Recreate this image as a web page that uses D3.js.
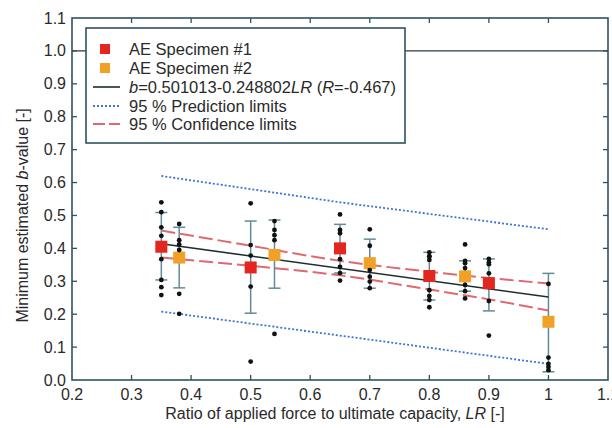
<!DOCTYPE html>
<html>
<head>
<meta charset="utf-8">
<script src="https://cdn.jsdelivr.net/npm/d3@7"></script>
<style>
  body { margin: 0; background: #fff; }
  svg { font-family: "Liberation Sans", Arial, sans-serif; }
</style>
</head>
<body>
<div id="chart"></div>
<script>
// ---- data ----
var xTicks = [0.2, 0.3, 0.4, 0.5, 0.6, 0.7, 0.8, 0.9, 1, 1.1];
var xTickLabels = ["0.2", "0.3", "0.4", "0.5", "0.6", "0.7", "0.8", "0.9", "1", "1.1"];
var yTicks = [0, 0.1, 0.2, 0.3, 0.4, 0.5, 0.6, 0.7, 0.8, 0.9, 1.0, 1.1];

// specimen #1 (red) and #2 (orange): load ratio, mean, error bar low / high
var spec1LR   = [0.35, 0.5, 0.65, 0.8, 0.9];
var spec1Mean = [0.405, 0.342, 0.400, 0.316, 0.294];
var spec1Low  = [0.304, 0.203, 0.325, 0.243, 0.210];
var spec1High = [0.509, 0.483, 0.473, 0.388, 0.368];

var spec2LR   = [0.38, 0.54, 0.7, 0.86, 1.0];
var spec2Mean = [0.372, 0.380, 0.355, 0.315, 0.177];
var spec2Low  = [0.280, 0.279, 0.279, 0.270, 0.025];
var spec2High = [0.464, 0.486, 0.428, 0.362, 0.324];

// individual b-values (black dots)
var dotLR = [
  0.35, 0.35, 0.35, 0.35, 0.35, 0.35, 0.35, 0.35,
  0.38, 0.38, 0.38, 0.38, 0.38, 0.38,
  0.5, 0.5, 0.5, 0.5, 0.5,
  0.54, 0.54, 0.54, 0.54, 0.54,
  0.65, 0.65, 0.65, 0.65, 0.65, 0.65, 0.65,
  0.7, 0.7, 0.7, 0.7, 0.7, 0.7,
  0.8, 0.8, 0.8, 0.8, 0.8, 0.8, 0.8, 0.8,
  0.86, 0.86, 0.86, 0.86, 0.86, 0.86, 0.86,
  0.9, 0.9, 0.9, 0.9, 0.9, 0.9,
  1.0, 1.0, 1.0, 1.0, 1.0, 1.0
];
var dotB = [
  0.540, 0.510, 0.464, 0.438, 0.367, 0.304, 0.282, 0.258,
  0.474, 0.425, 0.412, 0.395, 0.262, 0.201,
  0.537, 0.410, 0.378, 0.284, 0.056,
  0.483, 0.456, 0.440, 0.425, 0.140,
  0.503, 0.456, 0.446, 0.367, 0.344, 0.325, 0.302,
  0.458, 0.334, 0.314, 0.299, 0.279,
  0.408, 0.375, 0.365, 0.273, 0.255, 0.243, 0.221, 0.388,
  0.376, 0.355, 0.340, 0.289, 0.270, 0.248, 0.362,
  0.412, 0.352, 0.324, 0.240, 0.135, 0.368,
  0.357, 0.292, 0.068, 0.049, 0.040, 0.030
];

// fitted line b = 0.501013 - 0.248802 LR, end points
var fitLR = [0.35, 1.0];
var fitB  = [0.414, 0.252];

// 95 % confidence limits
var confLR    = [0.35, 0.5, 0.65, 0.8, 0.9, 1.0];
var confUpper = [0.454, 0.408, 0.362, 0.329, 0.310, 0.293];
var confLower = [0.372, 0.347, 0.318, 0.275, 0.245, 0.211];

// 95 % prediction limits
var predLR    = [0.35, 0.65, 1.0];
var predUpper = [0.620, 0.540, 0.458];
var predLower = [0.208, 0.135, 0.049];

var refLine = 1.0;

// ---- layout ----
var width = 612, height = 428;
var mLeft = 72, mRight = 608, mTop = 18, mBottom = 380;

var svg = d3.select("#chart").append("svg")
    .attr("width", width)
    .attr("height", height);

var x = d3.scaleLinear().domain([0.2, 1.1]).range([mLeft, mRight]);
var y = d3.scaleLinear().domain([0, 1.1]).range([mBottom, mTop]);

var axisColor = "#2e5260";
var errColor = "#5f8c98";
var textColor = "#2a2a2a";

// reference line at b = 1.0
svg.append("line")
    .attr("x1", x(0.2)).attr("x2", x(1.1))
    .attr("y1", y(refLine)).attr("y2", y(refLine))
    .attr("stroke", "#2a3a40")
    .attr("stroke-width", 1.4);

// prediction limits
var line = d3.line().x(function(d) { return x(d[0]); }).y(function(d) { return y(d[1]); });

[predUpper, predLower].forEach(function(arr) {
    svg.append("path")
        .attr("d", line(d3.zip(predLR, arr)))
        .attr("fill", "none")
        .attr("stroke", "#3f73d6")
        .attr("stroke-width", 1.8)
        .attr("stroke-dasharray", "2,2");
});

// confidence limits
var curve = d3.line().curve(d3.curveMonotoneX)
    .x(function(d) { return x(d[0]); }).y(function(d) { return y(d[1]); });

[confUpper, confLower].forEach(function(arr) {
    svg.append("path")
        .attr("d", curve(d3.zip(confLR, arr)))
        .attr("fill", "none")
        .attr("stroke", "#e06870")
        .attr("stroke-width", 2)
        .attr("stroke-dasharray", "14,5");
});

// error bars
function errorBars(lr, lo, hi) {
    var g = svg.append("g");
    lr.forEach(function(v, i) {
        g.append("line")
            .attr("x1", x(v)).attr("x2", x(v))
            .attr("y1", y(lo[i])).attr("y2", y(hi[i]))
            .attr("stroke", errColor).attr("stroke-width", 1.5);
        [lo[i], hi[i]].forEach(function(c) {
            g.append("line")
                .attr("x1", x(v) - 6).attr("x2", x(v) + 6)
                .attr("y1", y(c)).attr("y2", y(c))
                .attr("stroke", errColor).attr("stroke-width", 1.5);
        });
    });
}
errorBars(spec1LR, spec1Low, spec1High);
errorBars(spec2LR, spec2Low, spec2High);

// fitted line
svg.append("path")
    .attr("d", line(d3.zip(fitLR, fitB)))
    .attr("fill", "none")
    .attr("stroke", "#1e2e2e")
    .attr("stroke-width", 1.6);

// mean markers
function markers(lr, mean, color) {
    svg.append("g").selectAll("rect")
        .data(d3.zip(lr, mean))
        .enter().append("rect")
        .attr("x", function(d) { return x(d[0]) - 6; })
        .attr("y", function(d) { return y(d[1]) - 6; })
        .attr("width", 12)
        .attr("height", 12)
        .attr("fill", color);
}
markers(spec1LR, spec1Mean, "#e3261f");
markers(spec2LR, spec2Mean, "#f0a126");

// individual values
svg.append("g").selectAll("circle")
    .data(d3.zip(dotLR, dotB))
    .enter().append("circle")
    .attr("cx", function(d) { return x(d[0]); })
    .attr("cy", function(d) { return y(d[1]); })
    .attr("r", 2.4)
    .attr("fill", "#111");

// frame
svg.append("rect")
    .attr("x", mLeft).attr("y", mTop)
    .attr("width", mRight - mLeft).attr("height", mBottom - mTop)
    .attr("fill", "none")
    .attr("stroke", axisColor)
    .attr("stroke-width", 1.6);

// inward ticks on all sides
var tl = 5;
xTicks.slice(1, -1).forEach(function(t) {
    svg.append("line").attr("x1", x(t)).attr("x2", x(t))
        .attr("y1", mBottom).attr("y2", mBottom - tl)
        .attr("stroke", axisColor).attr("stroke-width", 1.3);
    svg.append("line").attr("x1", x(t)).attr("x2", x(t))
        .attr("y1", mTop).attr("y2", mTop + tl)
        .attr("stroke", axisColor).attr("stroke-width", 1.3);
});
yTicks.slice(1, -1).forEach(function(t) {
    svg.append("line").attr("x1", mLeft).attr("x2", mLeft + tl)
        .attr("y1", y(t)).attr("y2", y(t))
        .attr("stroke", axisColor).attr("stroke-width", 1.3);
    svg.append("line").attr("x1", mRight).attr("x2", mRight - tl)
        .attr("y1", y(t)).attr("y2", y(t))
        .attr("stroke", axisColor).attr("stroke-width", 1.3);
});

// tick labels
svg.append("g").selectAll("text")
    .data(xTicks)
    .enter().append("text")
    .attr("x", function(d) { return x(d); })
    .attr("y", mBottom + 20)
    .attr("text-anchor", "middle")
    .attr("font-size", "16px")
    .attr("fill", textColor)
    .text(function(d, i) { return xTickLabels[i]; });

svg.append("g").selectAll("text")
    .data(yTicks)
    .enter().append("text")
    .attr("x", mLeft - 6)
    .attr("y", function(d) { return y(d) + 5.5; })
    .attr("text-anchor", "end")
    .attr("font-size", "16px")
    .attr("fill", textColor)
    .text(function(d) { return d.toFixed(1); });

// axis titles
var xt = svg.append("text")
    .attr("x", 335)
    .attr("y", 419)
    .attr("text-anchor", "middle")
    .attr("font-size", "16px")
    .attr("fill", textColor);
xt.append("tspan").text("Ratio of applied force to ultimate capacity, ");
xt.append("tspan").attr("font-style", "italic").text("LR");
xt.append("tspan").text(" [-]");

var yt = svg.append("text")
    .attr("transform", "translate(28," + y(0.5) + ") rotate(-90)")
    .attr("text-anchor", "middle")
    .attr("font-size", "16px")
    .attr("fill", textColor);
yt.append("tspan").text("Minimum estimated ");
yt.append("tspan").attr("font-style", "italic").text("b");
yt.append("tspan").text("-value [-]");

// legend
var lg = svg.append("g");
lg.append("rect")
    .attr("x", 86).attr("y", 28)
    .attr("width", 319).attr("height", 115)
    .attr("fill", "#fff")
    .attr("stroke", axisColor)
    .attr("stroke-width", 1.6);

var rowY = [49, 68, 87, 106, 124];
var tx = 129;

lg.append("rect").attr("x", 100).attr("y", rowY[0] - 5).attr("width", 10).attr("height", 10).attr("fill", "#e3261f");
lg.append("rect").attr("x", 100).attr("y", rowY[1] - 5).attr("width", 10).attr("height", 10).attr("fill", "#f0a126");
lg.append("line").attr("x1", 93).attr("x2", 120).attr("y1", rowY[2]).attr("y2", rowY[2])
    .attr("stroke", "#1e2e2e").attr("stroke-width", 1.6);
lg.append("line").attr("x1", 93).attr("x2", 120).attr("y1", rowY[3]).attr("y2", rowY[3])
    .attr("stroke", "#3f73d6").attr("stroke-width", 1.8).attr("stroke-dasharray", "2,2");
lg.append("line").attr("x1", 93).attr("x2", 120).attr("y1", rowY[4]).attr("y2", rowY[4])
    .attr("stroke", "#e06870").attr("stroke-width", 2).attr("stroke-dasharray", "12,4");

function legText(i) {
    return lg.append("text")
        .attr("x", tx).attr("y", rowY[i] + 6)
        .attr("font-size", "16.5px")
        .attr("fill", textColor);
}
legText(0).text("AE Specimen #1");
legText(1).text("AE Specimen #2");
var t3 = legText(2);
t3.append("tspan").attr("font-style", "italic").text("b");
t3.append("tspan").text("=0.501013-0.248802");
t3.append("tspan").attr("font-style", "italic").text("LR");
t3.append("tspan").text(" (");
t3.append("tspan").attr("font-style", "italic").text("R");
t3.append("tspan").text("=-0.467)");
legText(3).text("95 % Prediction limits");
legText(4).text("95 % Confidence limits");
</script>
</body>
</html>
